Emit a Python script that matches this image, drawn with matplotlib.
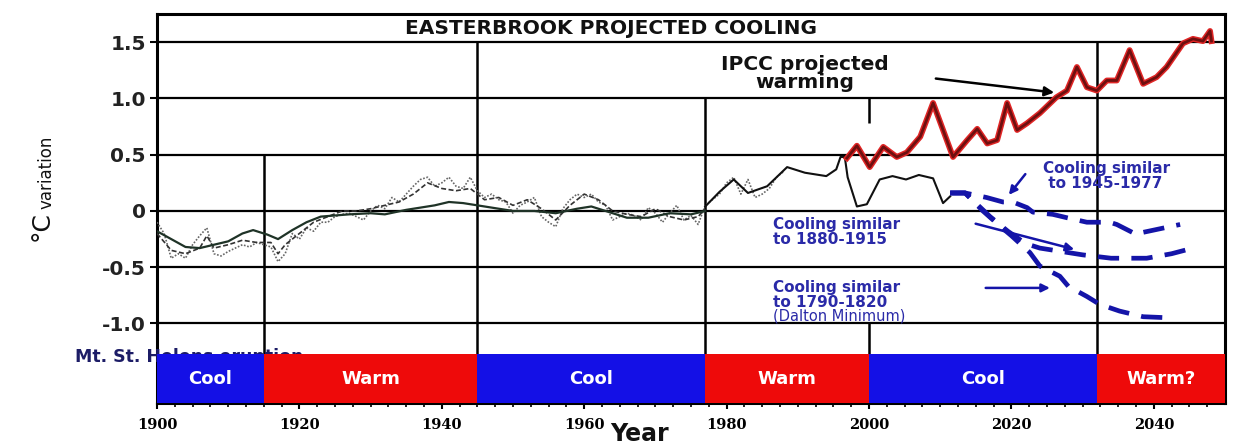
import matplotlib
matplotlib.use("Agg")
import matplotlib.pyplot as plt
import numpy as np

# ---------------- data ----------------
# smoothed historical record (dark solid)
smooth_years = [1900, 1902, 1904, 1906, 1908, 1910, 1912, 1913.5, 1915.5, 1917, 1919, 1921, 1923,
                1927, 1930, 1932, 1935, 1937, 1939, 1941, 1943, 1945, 1948, 1950, 1953, 1956,
                1959, 1961, 1963, 1966, 1969, 1972, 1975, 1977]
smooth_vals = [-0.18, -0.25, -0.32, -0.33, -0.30, -0.27, -0.20, -0.17, -0.21, -0.25, -0.17, -0.10, -0.05,
               -0.03, -0.02, -0.03, 0.01, 0.03, 0.05, 0.08, 0.07, 0.05, 0.02, 0.00, 0.00, -0.02,
               0.02, 0.04, 0.00, -0.06, -0.06, -0.02, -0.03, 0.00]

# annual noisy record (gray dotted)
annual_years = list(range(1900, 1989))
annual_vals = [-0.10, -0.20, -0.42, -0.38, -0.42, -0.30, -0.22, -0.15, -0.38, -0.40,
               -0.36, -0.33, -0.30, -0.32, -0.28, -0.30, -0.32, -0.45, -0.38, -0.20,
               -0.25, -0.15, -0.18, -0.10, -0.10, -0.05, -0.03, -0.02, -0.05, -0.08,
               0.00, 0.05, 0.02, 0.12, 0.08, 0.15, 0.22, 0.28, 0.30, 0.22,
               0.25, 0.30, 0.22, 0.20, 0.30, 0.18, 0.12, 0.15, 0.10, 0.08,
               -0.02, 0.05, 0.08, 0.12, -0.05, -0.10, -0.14, 0.02, 0.10, 0.15,
               0.12, 0.15, 0.08, 0.05, -0.08, -0.05, -0.02, -0.04, -0.08, 0.03,
               -0.02, -0.10, -0.02, 0.05, -0.08, -0.04, -0.12, 0.05, 0.10, 0.15,
               0.25, 0.30, 0.15, 0.28, 0.12, 0.15, 0.20, 0.30, 0.35]

# second reconstruction (dark dashed)
recon_years = [1900, 1902, 1904, 1906, 1907, 1908, 1910, 1912, 1914, 1916, 1917, 1918, 1919, 1920,
               1922, 1924, 1926, 1928, 1930, 1932, 1934, 1936, 1938, 1940, 1942, 1944, 1946,
               1948, 1950, 1952, 1954, 1956, 1958, 1960, 1962, 1964, 1966, 1968, 1970, 1972,
               1974, 1976, 1977]
recon_vals = [-0.20, -0.35, -0.38, -0.33, -0.22, -0.33, -0.30, -0.26, -0.28, -0.28, -0.38, -0.30, -0.25, -0.20,
              -0.10, -0.05, 0.00, 0.00, 0.02, 0.05, 0.08, 0.15, 0.25, 0.20, 0.18, 0.20, 0.10,
              0.12, 0.05, 0.10, 0.02, -0.08, 0.05, 0.15, 0.10, 0.00, -0.03, -0.05, 0.02, -0.05,
              -0.08, -0.05, 0.02]

# observed record after 1977 (black)
obs_years = [1977, 1979, 1981, 1983, 1985.7, 1988.5, 1991, 1994, 1995.4, 1996, 1996.6, 1997,
             1998.3, 1999.7, 2001.5, 2003.3, 2005.2, 2007, 2009, 2010.4, 2011.4]
obs_vals = [0.04, 0.17, 0.28, 0.16, 0.22, 0.39, 0.34, 0.31, 0.37, 0.48, 0.48, 0.30,
            0.04, 0.06, 0.28, 0.31, 0.28, 0.32, 0.29, 0.07, 0.13]

# IPCC projected warming (red)
ipcc_years = [1996.9, 1998.3, 2000.1, 2002.0, 2003.9, 2005.3, 2007.2, 2009.0, 2010.4, 2011.8,
              2013.8, 2015.2, 2016.6, 2018.0, 2019.4, 2020.8, 2022.2, 2024.0, 2026.3, 2027.8,
              2029.2, 2030.6, 2032.0, 2033.4, 2034.8, 2036.6, 2038.5, 2040.4, 2041.8, 2044.1,
              2045.5, 2046.9, 2047.9, 2048.1]
ipcc_vals = [0.47, 0.58, 0.39, 0.57, 0.48, 0.52, 0.66, 0.96, 0.72, 0.48,
             0.63, 0.73, 0.60, 0.63, 0.96, 0.72, 0.78, 0.87, 1.01, 1.07,
             1.28, 1.10, 1.07, 1.16, 1.16, 1.43, 1.13, 1.19, 1.28, 1.49,
             1.53, 1.51, 1.60, 1.51]

# projected cooling scenarios (blue dashed)
cool1945_years = [2011.4, 2013.5, 2016.5, 2018.8, 2020.2, 2022.2, 2023.0, 2025.8, 2027.8, 2030.6,
                  2032.0, 2033.8, 2034.8, 2037.6, 2038.5, 2043.7]
cool1945_vals = [0.16, 0.16, 0.12, 0.08, 0.08, 0.03, -0.01, -0.03, -0.06, -0.10,
                 -0.10, -0.10, -0.12, -0.21, -0.19, -0.12]
cool1880_years = [2011.4, 2013.5, 2017.0, 2019.5, 2022.0, 2024.0, 2027.0, 2030.0, 2034.0, 2039.0,
                  2042.5, 2045.5]
cool1880_vals = [0.16, 0.16, -0.05, -0.18, -0.29, -0.33, -0.36, -0.39, -0.42, -0.42,
                 -0.38, -0.33]
dalton_years = [2011.4, 2013.5, 2016.0, 2018.5, 2020.0, 2022.6, 2024.0, 2026.8, 2028.0, 2030.6,
                2032.4, 2035.2, 2038.5, 2042.3]
dalton_vals = [0.16, 0.16, 0.00, -0.14, -0.22, -0.37, -0.49, -0.58, -0.67, -0.76,
               -0.83, -0.89, -0.94, -0.95]

# phase bands
phase_starts = [1900, 1915, 1945, 1977, 2000, 2032]
phase_ends = [1915, 1945, 1977, 2000, 2032, 2050]
phase_labels = ["Cool", "Warm", "Cool", "Warm", "Cool", "Warm?"]
phase_kinds = ["cool", "warm", "cool", "warm", "cool", "warm"]

yticks = [-1.0, -0.5, 0.0, 0.5, 1.0, 1.5]
ytick_labels = ["-1.0", "-0.5", "0", "0.5", "1.0", "1.5"]
xticks = [1900, 1920, 1940, 1960, 1980, 2000, 2020, 2040]
xtick_labels = ["1900", "1920", "1940", "1960", "1980", "2000", "2020", "2040"]

# vertical divider lines (year, top value)
divider_years = [1915, 1945, 1977, 2032]
divider_tops = [0.5, 1.5, 1.0, 1.5]

# ---------------- figure ----------------
W, H = 1241, 447
fig = plt.figure(figsize=(W / 100, H / 100), dpi=100)
ax = fig.add_axes([157 / W, 1 - 403 / H, (1225 - 157) / W, (403 - 14) / H])
YMIN, YMAX = -1.707, 1.751
BAND_TOP = -1.271
ax.set_xlim(1900, 2050)
ax.set_ylim(YMIN, YMAX)

for s in ax.spines.values():
    s.set_linewidth(2.2)
    s.set_color("black")

ax.set_yticks(yticks)
ax.set_yticklabels(ytick_labels, fontsize=14.5, fontweight="bold", color="#222222")
ax.set_xticks(xticks)
ax.set_xticklabels(xtick_labels, fontsize=10.5, fontweight="bold", family="DejaVu Serif")
ax.set_xticks(np.arange(1900, 2050, 2.5), minor=True)
ax.tick_params(axis="y", length=5, width=1.5, pad=3)
ax.tick_params(axis="x", which="major", length=4, width=1.5, pad=7, direction="out")
ax.tick_params(axis="x", which="minor", length=3, width=1.2)
ax.yaxis.grid(True, color="black", linewidth=1.6)
ax.set_axisbelow(True)

# phase bands
colors = {"cool": "#1410e6", "warm": "#ee0a0a"}
for st, en, lab, kind in zip(phase_starts, phase_ends, phase_labels, phase_kinds):
    ax.bar(st, BAND_TOP - YMIN, width=en - st, bottom=YMIN, align="edge",
           color=colors[kind], edgecolor="none", zorder=4)
    ax.text((st + en) / 2, -1.49, lab, color="white", fontsize=13, fontweight="bold",
            ha="center", va="center", zorder=6)

# Mt. St. Helens text behind the bands
ax.text(1888.5, -1.30, "Mt. St. Helens eruption", color="#1c1c66", fontsize=12.5,
        fontweight="bold", ha="left", va="center", zorder=3, clip_on=False)

# dividers
ax.vlines(divider_years, divider_tops, YMIN, color="black", lw=1.8, zorder=2)
ax.vlines([2000, 2000], [1.0, -1.0], [0.78, YMIN], color="black", lw=1.8, zorder=2)

# historical series
ax.plot(annual_years, annual_vals, color="#666666", lw=1.2, ls=(0, (1, 1)), zorder=3)
ax.plot(recon_years, recon_vals, color="#333333", lw=1.2, ls=(0, (3, 1.5)), zorder=3)
ax.plot(smooth_years, smooth_vals, color="#1f3327", lw=1.6, zorder=3)
ax.plot(obs_years, obs_vals, color="#111111", lw=1.5, zorder=3)

# IPCC warming
ax.plot(ipcc_years, ipcc_vals, color="#e02525", lw=4.2, solid_joinstyle="round", zorder=4)
ax.plot(ipcc_years, ipcc_vals, color="#6e1010", lw=2.0, solid_joinstyle="round", zorder=5)

# cooling scenarios
blue = "#1414a8"
for yrs, vals in [(cool1945_years, cool1945_vals), (cool1880_years, cool1880_vals),
                  (dalton_years, dalton_vals)]:
    ax.plot(yrs, vals, color=blue, lw=3.4, ls=(0, (4.5, 2.6)), zorder=4)

# title
ax.text(1963.8, 1.625, "EASTERBROOK PROJECTED COOLING", fontsize=14.5, fontweight="bold",
        ha="center", va="center", color="#111111")

# IPCC label
ax.text(1991, 1.22, "IPCC projected\nwarming", fontsize=14.5, fontweight="bold",
        ha="center", va="center", linespacing=0.95, color="#111111")
ax.annotate("", xy=(2026.4, 1.05), xytext=(2009, 1.18),
            arrowprops=dict(arrowstyle="-|>", color="black", lw=1.8, mutation_scale=14))

# cooling labels
tcol = "#2a2aa8"
ax.text(2024.4, 0.31, "Cooling similar\n to 1945-1977", fontsize=11, fontweight="bold",
        ha="left", va="center", color=tcol, linespacing=1.0)
ax.annotate("", xy=(2019.4, 0.124), xytext=(2022.2, 0.347),
            arrowprops=dict(arrowstyle="-|>", color=blue, lw=1.8, mutation_scale=12))

ax.text(1986.5, -0.19, "Cooling similar\nto 1880-1915", fontsize=11, fontweight="bold",
        ha="left", va="center", color=tcol, linespacing=1.0)
ax.annotate("", xy=(2029.2, -0.347), xytext=(2014.6, -0.107),
            arrowprops=dict(arrowstyle="-|>", color=blue, lw=1.8, mutation_scale=12))

ax.text(1986.5, -0.745, "Cooling similar\nto 1790-1820", fontsize=11, fontweight="bold",
        ha="left", va="center", color=tcol, linespacing=1.0)
ax.text(1986.5, -0.935, "(Dalton Minimum)", fontsize=10.5, ha="left", va="center",
        color=tcol)
ax.annotate("", xy=(2025.8, -0.684), xytext=(2016.0, -0.684),
            arrowprops=dict(arrowstyle="-|>", color=blue, lw=1.8, mutation_scale=12))

# axis titles
fig.text(640 / W, 1 - 434 / H, "Year", fontsize=17, fontweight="bold", ha="center",
         va="center", color="#111111")
fig.text(46 / W, 1 - 172 / H, "variation", fontsize=12, rotation=90, ha="center",
         va="center", family=["Liberation Sans Narrow", "DejaVu Sans"], color="#111111")
fig.text(42 / W, 1 - 226 / H, "°C", fontsize=18, rotation=90, ha="center", va="center",
         color="#111111")

fig.savefig("out.png", dpi=100)
